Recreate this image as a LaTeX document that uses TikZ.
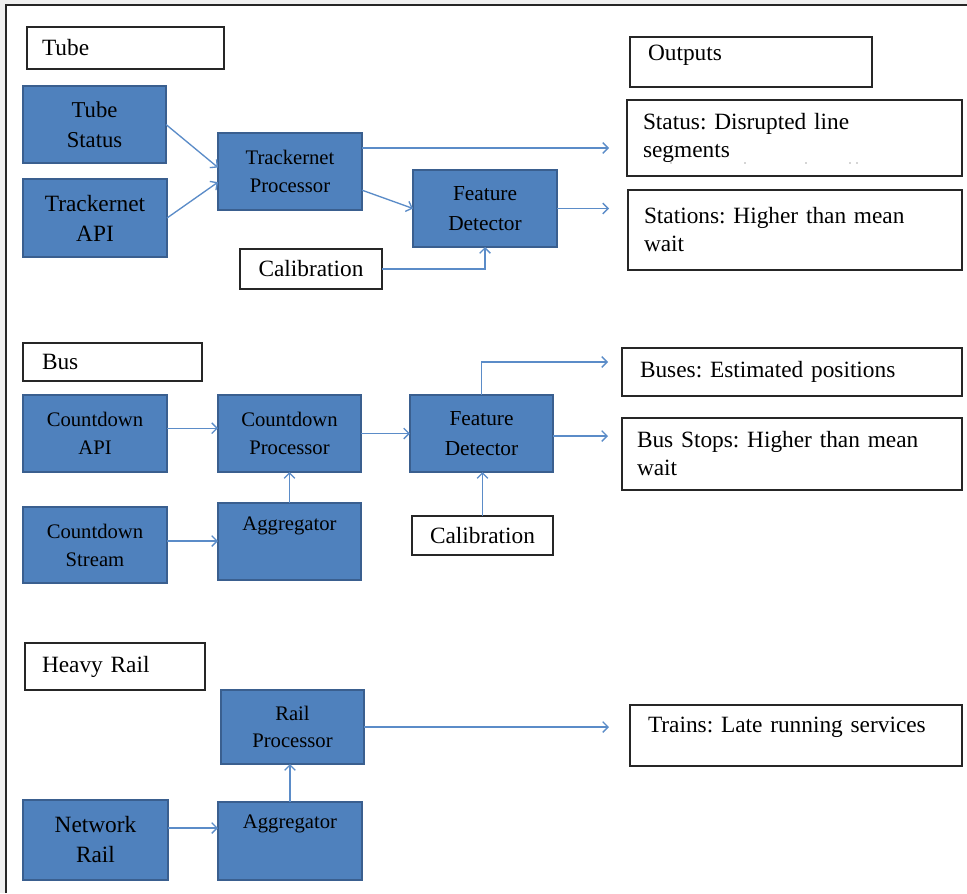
\documentclass[tikz,border=0pt]{standalone}
\usepackage{fontspec}
\setmainfont{Liberation Serif}
\usetikzlibrary{arrows.meta}
\frenchspacing
\definecolor{boxblue}{HTML}{4F81BD}
\definecolor{boxedge}{HTML}{3A5F8F}
\definecolor{arrowblue}{HTML}{5B8CC8}
\definecolor{bggray}{HTML}{F0F0F0}
\tikzset{
  pbox/.style args={#1/#2/#3/#4}{anchor=north west, at={(#1,#2)},
     minimum width={(#3-#1)*0.75pt}, minimum height={(#4-#2)*0.75pt}},
  wbox/.style args={#1/#2/#3}{anchor=north west, at={(#1,#2)},
     minimum height={#3*0.75pt}, align=left},
  bluebox/.style={draw=boxedge, line width=2.2pt, fill=boxblue, outer sep=0pt,
     inner sep=0pt, align=center, text=black},
  whitebox/.style={draw=black!85, line width=1.1pt, fill=white, outer sep=0pt,
     inner sep=0pt, text=black},
  arr/.style={draw=arrowblue, line width=1pt, -{Straight Barb[length=4pt,width=8pt]}},
}
\newcommand{\fs}[1]{\fontsize{#1}{21pt}\selectfont}
\begin{document}
\begin{tikzpicture}[x=0.75pt,y=-0.75pt]
\useasboundingbox (0,0) rectangle (967,893);
\fill[bggray] (0,0) rectangle (967,893);
\fill[white] (6,5) rectangle (967,893);
\draw[black!85, line width=1.5pt] (6,893) -- (6,5) -- (967,5);

% ---------- Tube ----------
\node[whitebox, wbox=27/27/42, text width=125.25pt, inner xsep=11.25pt, font=\fs{17.5}] (tubelbl) {Tube};
\node[whitebox, wbox=630/37/50, text width=154.5pt, inner xsep=13.5pt, font=\fs{17.5}, text depth=14pt] (outlbl) {Outputs};
\node[bluebox, pbox=23/86/166/163, font={\fontsize{17}{22.5}\selectfont}] (tstat) {Tube\\Status};
\node[bluebox, pbox=23/179/167/257, font={\fontsize{17.5}{22.5}\selectfont}] (tapi) {Trackernet\\API};
\node[bluebox, pbox=218/133/362/210, font={\fontsize{15.5}{20.5}\selectfont}] (tproc) {Trackernet\\Processor};
\node[bluebox, pbox=413/170/557/247, font={\fontsize{16}{22.5}\selectfont}] (tfd) {Feature\\Detector};
\node[whitebox, pbox=240/249/382/289, font=\fs{17.5}] (tcal) {Calibration};
\node[whitebox, wbox=627/100/76, text width=227.25pt, inner xsep=12pt, font=\fs{17.5}] (tstatus)
  {Status: Disrupted line\\segments};
\node[whitebox, wbox=628/190/80, text width=226.5pt, inner xsep=12pt, font=\fs{17.5}] (tstations)
  {Stations: Higher than mean\\wait};
\foreach \dx in {671,745,806,850,857} \fill[black!70] (\dx,163) circle (0.5pt);

\coordinate (o1) at (609,148);
\coordinate (o2) at (609,208.5);
\draw[arr] (tstat.east) -- ([yshift=3pt]tproc.west);
\draw[arr] (tapi.east) -- ([yshift=-8pt]tproc.west);
\draw[arr] (tproc.east |- o1) -- (o1);
\draw[arr] ([yshift=-14pt]tproc.east) -- (tfd.west);
\draw[arr] (tfd.east) -- (o2);
\draw[arr] (tcal.east) -| (tfd.south);

% ---------- Bus ----------
\node[whitebox, wbox=23/343/38, text width=105.75pt, inner xsep=14.25pt, font=\fs{17.5}] (buslbl) {Bus};
\node[bluebox, pbox=23/395/167/472, font={\fontsize{15.5}{21}\selectfont}] (capi) {Countdown\\API};
\node[bluebox, pbox=218/395/361/472, font={\fontsize{15.5}{21}\selectfont}] (cproc) {Countdown\\Processor};
\node[bluebox, pbox=410/395/553/472, font={\fontsize{16}{22.5}\selectfont}] (bfd) {Feature\\Detector};
\node[bluebox, pbox=23/507/167/583, font={\fontsize{15.5}{21}\selectfont}] (cstream) {Countdown\\Stream};
\node[bluebox, pbox=218/503/361/580, font={\fontsize{15.5}{26}\selectfont}] (bagg) {Aggregator\\\mbox{}};
\node[whitebox, pbox=412/516/553/555, font=\fs{17.5}] (bcal) {Calibration};
\node[whitebox, wbox=622/348/48, text width=228pt, inner xsep=13.5pt, font=\fs{17.5}] (buses)
  {Buses: Estimated positions};
\node[whitebox, wbox=622/418/72, text width=232.5pt, inner xsep=11.25pt, font=\fs{17.5}] (bstops)
  {Bus Stops: Higher than mean\\wait};

\coordinate (o3) at (608,362);
\coordinate (o4) at (608,436);
\draw[arr] ([yshift=4pt]capi.east) -- ([yshift=4pt]cproc.west);
\draw[arr] (cproc.east) -- (bfd.west);
\draw[arr] (bfd.north) |- (o3);
\draw[arr] (bfd.east |- o4) -- (o4);
\draw[arr] ([yshift=3pt]cstream.east) -- ([yshift=3pt]cstream.east -| bagg.west);
\draw[arr] (bagg.north) -- (cproc.south);
\draw[arr] (bcal.north) -- (bcal.north |- bfd.south);

% ---------- Heavy Rail ----------
\node[whitebox, wbox=25/643/47, text width=109.5pt, inner xsep=12.75pt, font=\fs{17.5}] (raillbl) {Heavy Rail};
\node[bluebox, pbox=221/690/364/764, font={\fontsize{15.5}{20.5}\selectfont}] (rproc) {Rail\\Processor};
\node[bluebox, pbox=23/800/168/880, font={\fontsize{17.5}{22.5}\selectfont}] (nrail) {Network\\Rail};
\node[bluebox, pbox=218/802/362/880, font={\fontsize{15.5}{29}\selectfont}] (ragg) {Aggregator\\\mbox{}};
\node[whitebox, wbox=630/705/61, text width=222pt, inner xsep=13.5pt, font=\fs{17.5}, text depth=16pt] (trains)
  {Trains: Late running services};

\coordinate (o5) at (609,727);
\draw[arr] (rproc.east |- o5) -- (o5);
\draw[arr] ([yshift=9pt]nrail.east) -- ([yshift=9pt]nrail.east -| ragg.west);
\draw[arr] (ragg.north) -- (ragg.north |- rproc.south);
\end{tikzpicture}
\end{document}
